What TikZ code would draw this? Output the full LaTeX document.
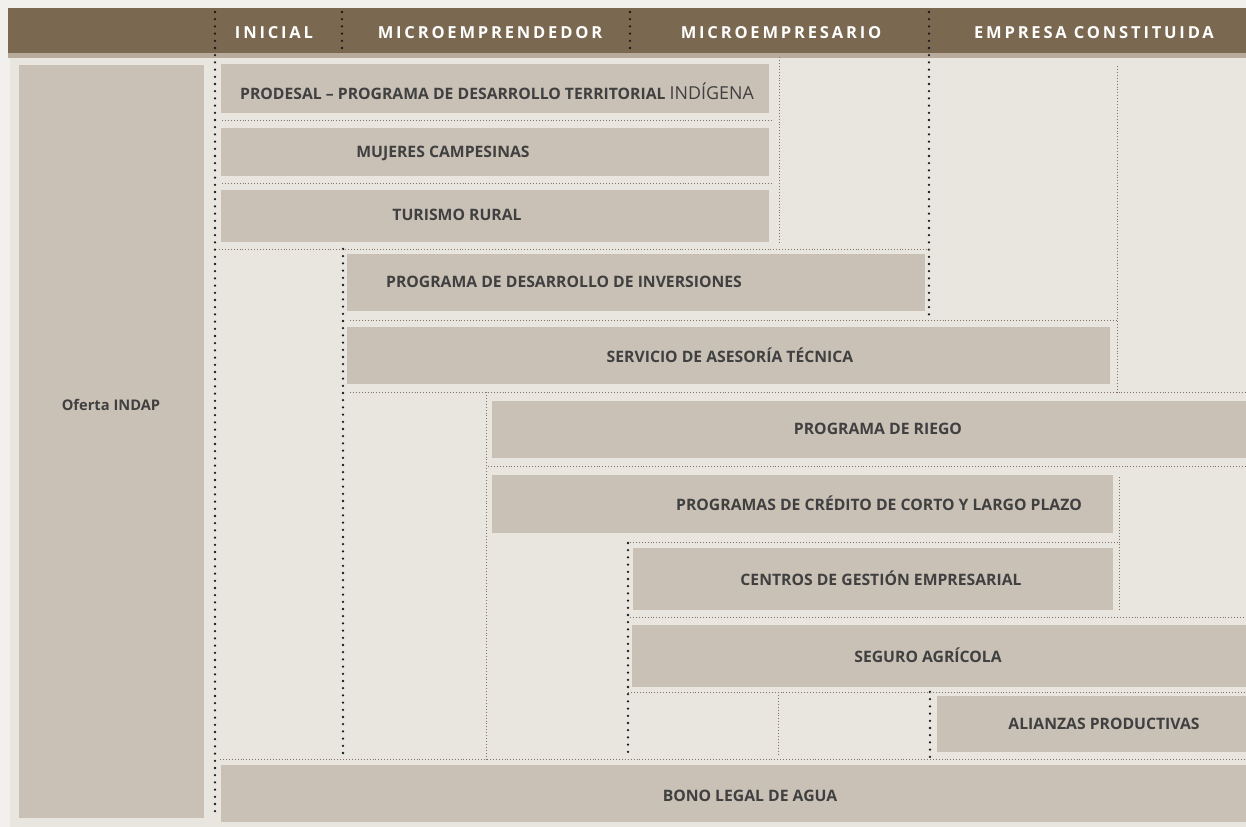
\documentclass[tikz,border=0pt]{standalone}
\usepackage{fontspec}
\setmainfont{Open Sans}
\newfontfamily\headfont[LetterSpace=17]{Open Sans}
\usetikzlibrary{positioning}
\definecolor{headbrown}{RGB}{123,104,80}
\definecolor{headstrip}{RGB}{184,171,155}
\definecolor{panelgrey}{RGB}{233,230,224}
\definecolor{pagegrey}{RGB}{241,240,236}
\definecolor{boxtan}{RGB}{201,193,182}
\definecolor{textgrey}{RGB}{64,64,64}
\definecolor{dotbrown}{RGB}{130,115,100}
\tikzset{
  progbox/.style={fill=boxtan},
  progtext/.style={
    text=textgrey,
    inner sep=0pt,
    font=\bfseries\fontsize{11.8}{13}\selectfont
  },
  headtext/.style={
    text=white,
    inner sep=0pt,
    font=\headfont\bfseries\fontsize{12.4}{14}\selectfont
  },
  bigdots/.style={draw=black!90,line width=1.9pt,line cap=round,dash pattern=on 0pt off 5.4pt},
  finedots/.style={draw=dotbrown,line width=0.7pt,dash pattern=on 0.7pt off 1.5pt},
}

\begin{document}
\begin{tikzpicture}[x=0.75pt,y=-0.75pt]
  % page, panel and header
  \fill[pagegrey] (0,0) rectangle (1246,827);
  \useasboundingbox (0,0) rectangle (1246,827);
  \fill[panelgrey] (10,58) rectangle (1246,827);
  \fill[headbrown] (8,8) rectangle (1246,53);
  \fill[headstrip] (8,53) rectangle (1246,58);

  \node[headtext] (inicial) at (274,33) {INICIAL};
  \node[headtext] (emprendedor) at (490,33) {MICROEMPRENDEDOR};
  \node[headtext] (empresario) at (781,33) {MICROEMPRESARIO};
  \node[headtext] (constituida) at (1094,33) {EMPRESA CONSTITUIDA};

  % program boxes
  \fill[progbox] (19,65) rectangle (204,818);
  \fill[progbox] (221,64) rectangle (769,113);
  \fill[progbox] (221,128) rectangle (769,176);
  \fill[progbox] (221,190) rectangle (769,242);
  \fill[progbox] (347,254) rectangle (925,311);
  \fill[progbox] (347,327) rectangle (1110,384);
  \fill[progbox] (492,401) rectangle (1246,458);
  \fill[progbox] (492,475) rectangle (1113,533);
  \fill[progbox] (633,548) rectangle (1113,610);
  \fill[progbox] (632,625) rectangle (1246,687);
  \fill[progbox] (937,696) rectangle (1246,752);
  \fill[progbox] (221,765) rectangle (1246,822);

  \node[progtext,font=\bfseries\fontsize{11}{12}\selectfont] (oferta) at (111,405) {Oferta INDAP};
  \node[progtext] (prodesal) at (497,91) {PRODESAL -- PROGRAMA DE DESARROLLO TERRITORIAL \textmd{\fontsize{13.4}{14}\selectfont INDÍGENA}};
  \node[progtext] (mujeres) at (443,153) {MUJERES CAMPESINAS};
  \node[progtext] (turismo) at (457,215) {TURISMO RURAL};
  \node[progtext] (inversiones) at (564,282) {PROGRAMA DE DESARROLLO DE INVERSIONES};
  \node[progtext] (asesoria) at (730,355) {SERVICIO DE ASESORÍA TÉCNICA};
  \node[progtext] (riego) at (878,429) {PROGRAMA DE RIEGO};
  \node[progtext] (credito) at (879,503) {PROGRAMAS DE CRÉDITO DE CORTO Y LARGO PLAZO};
  \node[progtext] (centros) at (881,578) {CENTROS DE GESTIÓN EMPRESARIAL};
  \node[progtext] (seguro) at (928,655) {SEGURO AGRÍCOLA};
  \node[progtext] (alianzas) at (1104,724) {ALIANZAS PRODUCTIVAS};
  \node[progtext] (bono) at (750,796) {BONO LEGAL DE AGUA};

  % stage borders
  \draw[bigdots] (215,12) -- (215,818);
  \draw[bigdots] (342,12) -- (342,52);
  \draw[bigdots] (343,249) -- (343,757);
  \draw[bigdots] (630,12) -- (630,53);
  \draw[bigdots] (628,543) -- (628,757);
  \draw[bigdots] (929,12) -- (929,318);
  \draw[bigdots] (930,692) -- (930,758);

  % fine separators
  \draw[finedots] (222,120) -- (773,120);
  \draw[finedots] (222,183) -- (773,183);
  \draw[finedots] (779,57) -- (779,244);
  \draw[finedots] (219,249) -- (929,249);
  \draw[finedots] (350,320) -- (1117,320);
  \draw[finedots] (1117,66) -- (1117,394);
  \draw[finedots] (350,392) -- (1246,392);
  \draw[finedots] (486,392) -- (486,760);
  \draw[finedots] (488,466) -- (1246,466);
  \draw[finedots] (1119,477) -- (1119,610);
  \draw[finedots] (630,542) -- (1119,542);
  \draw[finedots] (630,617) -- (1246,617);
  \draw[finedots] (628,692) -- (1246,692);
  \draw[finedots] (778,692) -- (778,755);
  \draw[finedots] (220,759) -- (1246,759);
\end{tikzpicture}
\end{document}
